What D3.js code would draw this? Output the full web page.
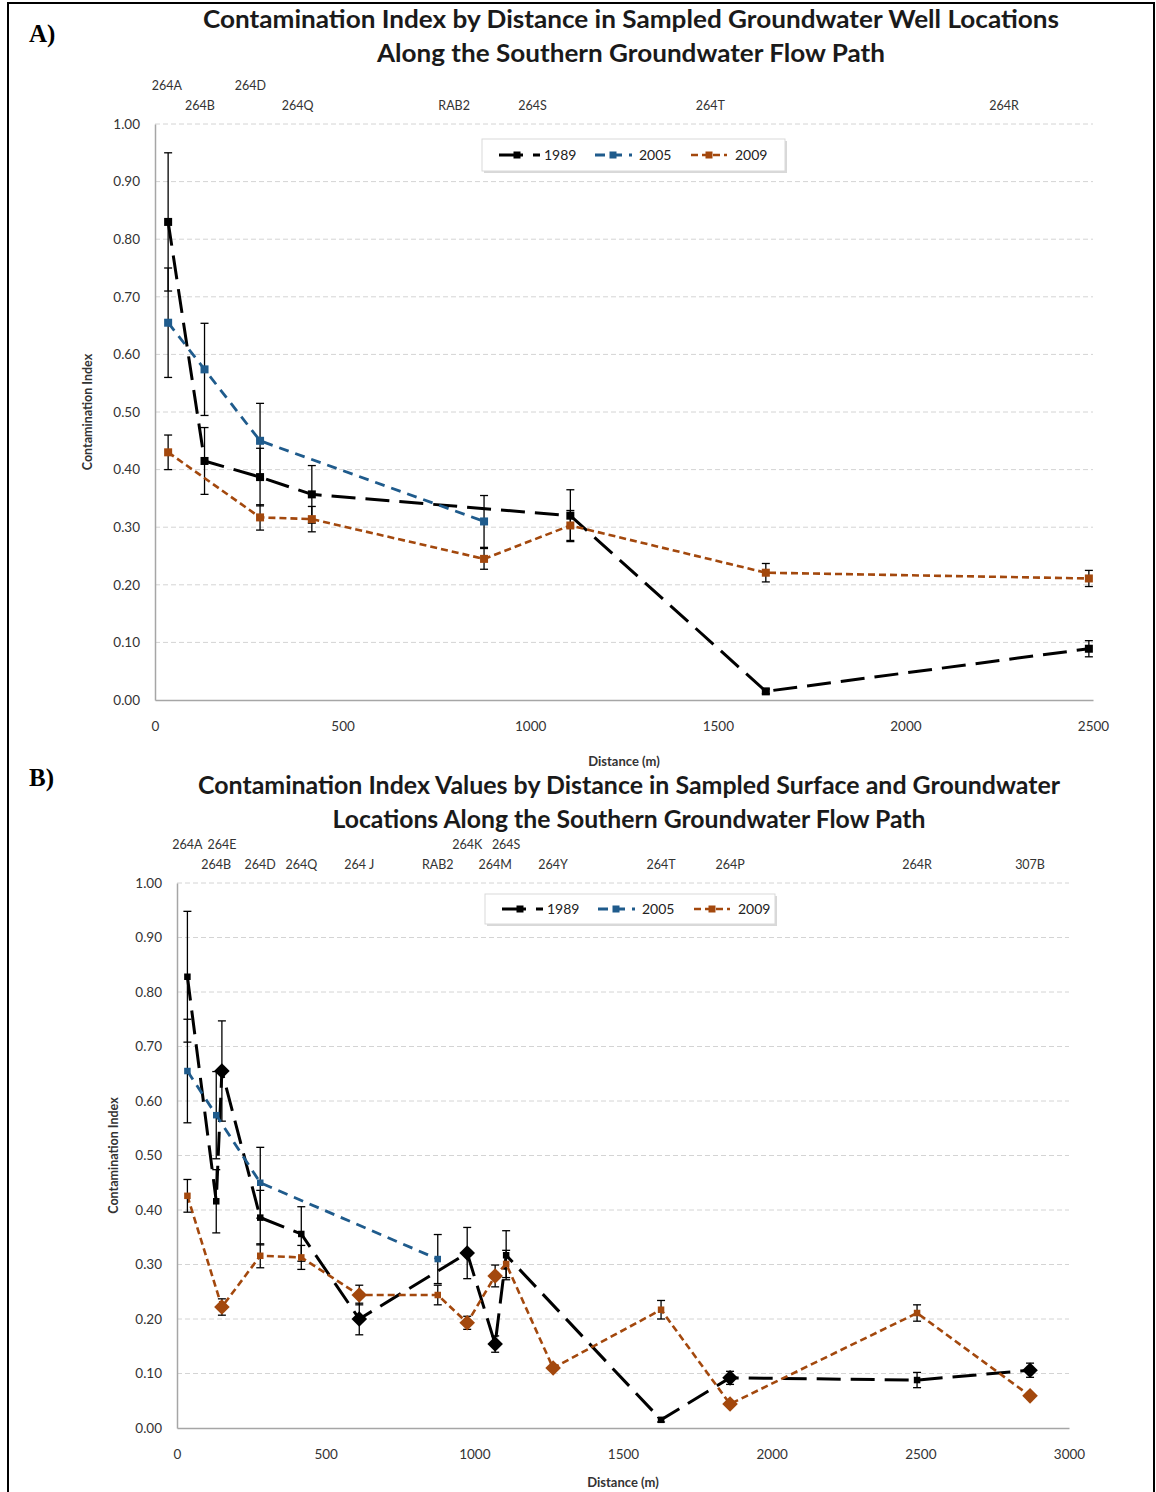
<!DOCTYPE html>
<html>
<head>
<meta charset="utf-8">
<script src="https://cdn.jsdelivr.net/npm/d3@7"></script>
<style>
  body { margin: 0; background: #fff; }
  svg { display: block; }
  text { font-family: Lato, "Open Sans", sans-serif; }
</style>
</head>
<body>
<div id="chart"></div>
<script>
// sampling sites and their distance along the flow path (m)
const siteNames = ["264A", "264B", "264E", "264D", "264Q", "264 J", "RAB2", "264K", "264M", "264S", "264Y", "264T", "264P", "264R", "307B"];
const siteDistance = [35, 132, 151, 280, 418, 613, 877, 976, 1070, 1107, 1265, 1628, 1860, 2489, 2869];
const surfaceSites = ["264E", "264 J", "264K", "264M", "264Y", "264P", "307B"];

const years = ["1989", "2005", "2009"];

// panel A : groundwater wells only
const aSites1989 = ["264A", "264B", "264D", "264Q", "264S", "264T", "264R"];
const aValues1989 = [0.83, 0.415, 0.387, 0.357, 0.32, 0.015, 0.089];
const aErrors1989 = [0.12, 0.058, 0.05, 0.05, 0.045, 0.004, 0.014];

const aSites2005 = ["264A", "264B", "264D", "RAB2"];
const aValues2005 = [0.655, 0.574, 0.45, 0.31];
const aErrors2005 = [0.095, 0.08, 0.065, 0.045];

const aSites2009 = ["264A", "264D", "264Q", "RAB2", "264S", "264T", "264R"];
const aValues2009 = [0.43, 0.317, 0.314, 0.245, 0.303, 0.221, 0.211];
const aErrors2009 = [0.03, 0.022, 0.022, 0.018, 0.026, 0.016, 0.014];

// panel B : surface and groundwater
const bSites1989 = ["264A", "264B", "264E", "264D", "264Q", "264 J", "264K", "264M", "264S", "264T", "264P", "264R", "307B"];
const bValues1989 = [0.828, 0.416, 0.655, 0.386, 0.356, 0.20, 0.321, 0.154, 0.317, 0.015, 0.092, 0.088, 0.106];
const bErrors1989 = [0.12, 0.058, 0.092, 0.05, 0.05, 0.029, 0.047, 0.015, 0.045, 0.004, 0.012, 0.014, 0.013];

const bSites2005 = ["264A", "264B", "264D", "RAB2"];
const bValues2005 = [0.655, 0.574, 0.45, 0.31];
const bErrors2005 = [0.095, 0.08, 0.065, 0.045];

const bSites2009 = ["264A", "264E", "264D", "264Q", "264 J", "RAB2", "264K", "264M", "264S", "264Y", "264T", "264P", "264R", "307B"];
const bValues2009 = [0.426, 0.222, 0.316, 0.313, 0.244, 0.244, 0.193, 0.279, 0.301, 0.11, 0.217, 0.044, 0.211, 0.059];
const bErrors2009 = [0.03, 0.015, 0.022, 0.022, 0.018, 0.018, 0.012, 0.02, 0.025, 0, 0.017, 0, 0.015, 0];

// site labels above each plot (upper row, the rest go in the lower row)
const aLabels = ["264A", "264B", "264D", "264Q", "RAB2", "264S", "264T", "264R"];
const aLabelsUpper = ["264A", "264D"];
const bLabels = ["264A", "264B", "264E", "264D", "264Q", "264 J", "RAB2", "264K", "264M", "264S", "264Y", "264T", "264P", "264R", "307B"];
const bLabelsUpper = ["264A", "264E", "264K", "264S"];

const yTicks = [0, 0.1, 0.2, 0.3, 0.4, 0.5, 0.6, 0.7, 0.8, 0.9, 1.0];
const aXTicks = [0, 500, 1000, 1500, 2000, 2500];
const bXTicks = [0, 500, 1000, 1500, 2000, 2500, 3000];

const colors = { "1989": "#000000", "2005": "#1F5B8C", "2009": "#A3480D" };
const dashes = { "1989": "24,10", "2005": "10,7", "2009": "7,4" };
const widths = { "1989": 3, "2005": 2.8, "2009": 2.6 };

function build(sites, values, errors) {
  return sites.map((s, i) => ({
    site: s,
    d: siteDistance[siteNames.indexOf(s)],
    v: values[i],
    e: errors[i],
    surface: surfaceSites.includes(s)
  }));
}

const W = 1156, H = 1492;
const svg = d3.select("#chart").append("svg")
  .attr("width", W).attr("height", H);

svg.append("rect")
  .attr("x", 8).attr("y", 3).attr("width", 1146).attr("height", H + 10)
  .attr("fill", "none").attr("stroke", "#000").attr("stroke-width", 2);

function drawPanel(p) {
  const x = d3.scaleLinear().domain([0, p.xMax]).range([p.left, p.right]);
  const y = d3.scaleLinear().domain([0, 1]).range([p.bottom, p.top]);
  // site labels in the source were laid out against a slightly different extent
  const xl = d3.scaleLinear().domain([0, p.labelMax]).range([p.left, p.right]);

  const g = svg.append("g");

  // panel letter
  g.append("text")
    .attr("x", 29).attr("y", p.letterY)
    .style("font-family", "'Liberation Serif', 'DejaVu Serif', serif")
    .style("font-weight", "bold").style("font-size", "25px")
    .text(p.letter);

  // title
  p.title.forEach((t, i) => {
    g.append("text")
      .attr("x", p.titleX).attr("y", p.titleY + i * 34)
      .attr("text-anchor", "middle")
      .attr("textLength", p.titleLen[i]).attr("lengthAdjust", "spacingAndGlyphs")
      .style("font-weight", "bold").style("font-size", p.titleSize + "px")
      .attr("fill", "#1a1a1a")
      .text(t);
  });

  // site labels
  g.selectAll(".site")
    .data(p.labels)
    .enter().append("text")
    .attr("x", d => xl(siteDistance[siteNames.indexOf(d)]))
    .attr("y", d => p.labelsUpper.includes(d) ? p.top - 34 : p.top - 14)
    .attr("text-anchor", "middle")
    .style("font-size", "12.5px").attr("fill", "#333")
    .text(d => d);

  // gridlines
  g.selectAll(".grid")
    .data(yTicks.filter(t => t > 0))
    .enter().append("line")
    .attr("x1", p.left).attr("x2", p.right)
    .attr("y1", d => y(d)).attr("y2", d => y(d))
    .attr("stroke", "#d4d4d4").attr("stroke-width", 1)
    .attr("stroke-dasharray", "5,3");

  // axes
  const yAxis = g.append("g")
    .attr("transform", `translate(${p.left},0)`)
    .call(d3.axisLeft(y).tickValues(yTicks).tickFormat(d3.format(".2f")).tickSize(0).tickPadding(15));
  const xAxis = g.append("g")
    .attr("transform", `translate(0,${p.bottom})`)
    .call(d3.axisBottom(x).tickValues(p.xTicks).tickFormat(d3.format("d")).tickSize(0).tickPadding(21));
  [yAxis, xAxis].forEach(a => {
    a.select(".domain").attr("stroke", "#a6a6a6").attr("stroke-width", 1.5);
    a.selectAll("text").style("font-size", "13.5px").attr("fill", "#333")
      .style("font-family", "Lato, 'Open Sans', sans-serif");
  });

  // axis titles
  g.append("text")
    .attr("transform", `translate(${p.yTitleX},${(p.top + p.bottom) / 2}) rotate(-90)`)
    .attr("text-anchor", "middle").attr("dy", "0.35em")
    .style("font-size", "12.5px").style("font-weight", "bold").attr("fill", "#333")
    .text("Contamination Index");
  g.append("text")
    .attr("x", (p.left + p.right) / 2).attr("y", p.xTitleY)
    .attr("text-anchor", "middle").attr("dy", "0.35em")
    .style("font-size", "13px").style("font-weight", "bold").attr("fill", "#333")
    .text("Distance (m)");

  const line = d3.line().x(d => x(d.d)).y(d => y(d.v));
  const diamond = d3.symbol().type(d3.symbolDiamond2).size(155);

  p.series.forEach(s => {
    const sg = g.append("g");
    sg.append("path")
      .datum(s.points)
      .attr("d", line)
      .attr("fill", "none")
      .attr("stroke", colors[s.year])
      .attr("stroke-width", widths[s.year])
      .attr("stroke-dasharray", dashes[s.year]);

    // error bars
    const eb = sg.selectAll(".err")
      .data(s.points.filter(d => d.e > 0))
      .enter().append("g")
      .attr("stroke", "#000").attr("stroke-width", 1.3);
    eb.append("line")
      .attr("x1", d => x(d.d)).attr("x2", d => x(d.d))
      .attr("y1", d => y(d.v - d.e)).attr("y2", d => y(d.v + d.e));
    [-1, 1].forEach(k => {
      eb.append("line")
        .attr("x1", d => x(d.d) - 4).attr("x2", d => x(d.d) + 4)
        .attr("y1", d => y(d.v + k * d.e)).attr("y2", d => y(d.v + k * d.e));
    });

    // markers
    sg.selectAll(".sq")
      .data(s.points.filter(d => !d.surface))
      .enter().append("rect")
      .attr("x", d => x(d.d) - p.sq / 2).attr("y", d => y(d.v) - p.sq / 2)
      .attr("width", p.sq).attr("height", p.sq)
      .attr("fill", colors[s.year]);
    sg.selectAll(".dm")
      .data(s.points.filter(d => d.surface))
      .enter().append("path")
      .attr("transform", d => `translate(${x(d.d)},${y(d.v)})`)
      .attr("d", diamond)
      .attr("fill", colors[s.year]);
  });

  // legend
  const lg = g.append("g").attr("transform", `translate(${p.legend[0]},${p.legend[1]})`);
  lg.append("rect")
    .attr("x", 2).attr("y", 2).attr("width", p.legend[2]).attr("height", p.legend[3])
    .attr("fill", "#c8c8c8").attr("opacity", 0.7);
  lg.append("rect")
    .attr("width", p.legend[2]).attr("height", p.legend[3])
    .attr("fill", "#fff").attr("stroke", "#d9d9d9").attr("stroke-width", 1);
  const lineStart = [17, 113, 209];
  const lineLen = [41, 37, 36];
  const textStart = [62, 157, 253];
  years.forEach((yr, i) => {
    const cy = p.legend[3] / 2;
    lg.append("line")
      .attr("x1", lineStart[i]).attr("x2", lineStart[i] + lineLen[i])
      .attr("y1", cy).attr("y2", cy)
      .attr("stroke", colors[yr]).attr("stroke-width", widths[yr])
      .attr("stroke-dasharray", dashes[yr]);
    lg.append("rect")
      .attr("x", lineStart[i] + 18 - 3.5).attr("y", cy - 3.5)
      .attr("width", 7).attr("height", 7).attr("fill", colors[yr]);
    lg.append("text")
      .attr("x", textStart[i]).attr("y", cy).attr("dy", "0.35em")
      .style("font-size", "14px").attr("fill", "#222")
      .text(yr);
  });
}

drawPanel({
  letter: "A)", letterY: 42,
  title: ["Contamination Index by Distance in Sampled Groundwater Well Locations",
          "Along the Southern Groundwater Flow Path"],
  titleLen: [856, 508],
  titleX: 631, titleY: 28, titleSize: 25,
  left: 155, right: 1093, top: 124, bottom: 700,
  xMax: 2500, labelMax: 2750, xTicks: aXTicks,
  labels: aLabels, labelsUpper: aLabelsUpper,
  yTitleX: 88, xTitleY: 761, sq: 8,
  legend: [482, 139, 303, 32],
  series: [
    { year: "1989", points: build(aSites1989, aValues1989, aErrors1989) },
    { year: "2005", points: build(aSites2005, aValues2005, aErrors2005) },
    { year: "2009", points: build(aSites2009, aValues2009, aErrors2009) }
  ]
});

drawPanel({
  letter: "B)", letterY: 786,
  title: ["Contamination Index Values by Distance in Sampled Surface and Groundwater",
          "Locations Along the Southern Groundwater Flow Path"],
  titleLen: [862, 593],
  titleX: 629, titleY: 794, titleSize: 24,
  left: 177, right: 1069, top: 883, bottom: 1428,
  xMax: 3000, labelMax: 3000, xTicks: bXTicks,
  labels: bLabels, labelsUpper: bLabelsUpper,
  yTitleX: 114, xTitleY: 1482, sq: 6.5,
  legend: [485, 894, 290, 30],
  series: [
    { year: "1989", points: build(bSites1989, bValues1989, bErrors1989) },
    { year: "2005", points: build(bSites2005, bValues2005, bErrors2005) },
    { year: "2009", points: build(bSites2009, bValues2009, bErrors2009) }
  ]
});
</script>
</body>
</html>
